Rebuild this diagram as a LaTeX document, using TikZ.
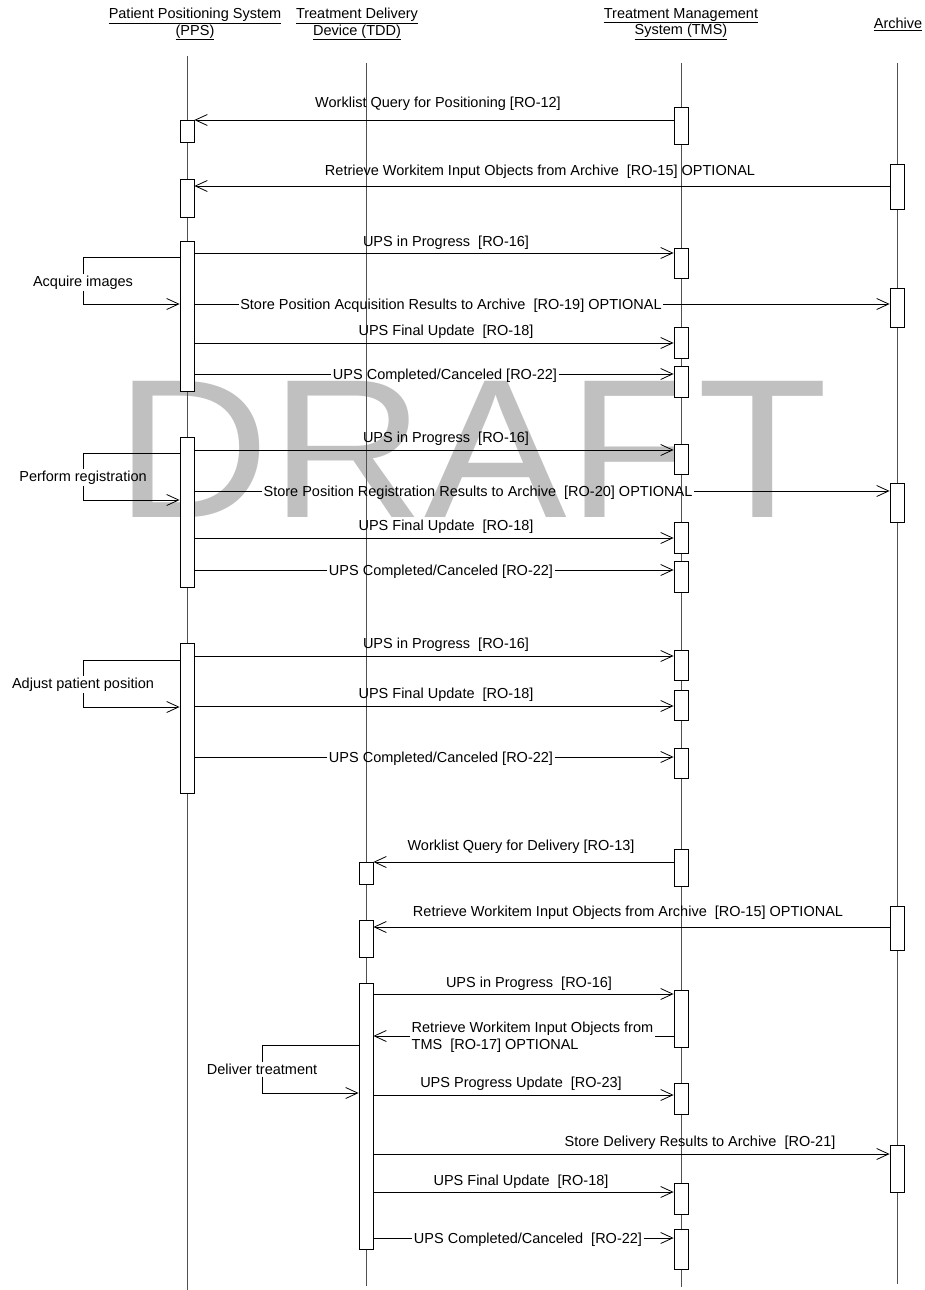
\documentclass[tikz,border=0pt]{standalone}
\usepackage{fontspec}
\setmainfont{Liberation Sans}
\usetikzlibrary{arrows.meta}
\definecolor{draftgray}{RGB}{192,192,192}
\definecolor{lifegray}{RGB}{80,80,80}
\tikzset{
	lifeline/.style={draw=lifegray, line width=0.9pt},
	act/.style={draw, fill=white, line width=0.8pt, minimum width=14pt, inner sep=0pt, anchor=north},
	msg/.style={draw, line width=0.8pt, -{Straight Barb[length=12pt,width=11pt,line width=0.8pt]}},
	seg/.style={draw, line width=0.8pt},
	lbl/.style={font=\fontsize{14.5}{17}\selectfont, inner sep=1.5pt, yshift=-1.5pt},
	head/.style={font=\fontsize{14.5}{15}\selectfont, inner sep=0pt, align=center},
}

\begin{document}
\begin{tikzpicture}[x=1pt,y=-1pt]
	\useasboundingbox (0,0) rectangle (925,1290);
	% watermark
	\node[text=draftgray, font=\fontsize{198}{200}\selectfont, inner sep=0pt, xscale=1.08] (draft) at (472,449) {DRAFT};
	% heads
	\node[head] (pps) at (195,24) {\underline{Patient Positioning System}\\\underline{(PPS)}};
	\node[head] (tdd) at (357,24) {\underline{Treatment Delivery}\\\underline{Device (TDD)}};
	\node[head] (tms) at (681,24) {\underline{Treatment Management}\\\underline{System (TMS)}};
	\node[head] (arc) at (898,24) {\underline{Archive}};
	% lifelines
	\coordinate (ppsTop) at (187,56);   \coordinate (ppsBot) at (187,1290);
	\coordinate (tddTop) at (366,63);   \coordinate (tddBot) at (366,1286);
	\coordinate (tmsTop) at (681,63);   \coordinate (tmsBot) at (681,1287);
	\coordinate (arcTop) at (897,63);   \coordinate (arcBot) at (897,1284);
	\foreach \l in {pps,tdd,tms,arc} {
		\draw[lifeline] (\l Top) -- (\l Bot);
	}
	% activations
	\foreach \n/\x/\ya/\yb in {pq/187/120/142, pr/187/179/217, pa/187/241/391, pb/187/437/587, pc/187/643/793,
		dq/366/862/884, dr/366/920/957, dd/366/983/1249,
		t1/681/107/144, t2/681/248/278, t3/681/327/358, t4/681/366/397, t5/681/444/474,
		t6/681/522/553, t7/681/561/592, t8/681/650/680, t9/681/690/720, t10/681/748/778,
		t11/681/849/886, t12/681/990/1047, t13/681/1083/1114, t14/681/1183/1214, t15/681/1229/1269,
		a1/897/164/209, a2/897/288/327, a3/897/483/522, a4/897/906/950, a5/897/1145/1192} {
		\node[act, minimum height={(\yb-\ya)*1pt}] (\n) at (\x,\ya) {};
	}
	% positioning
	\draw[msg] (t1.west |- 0,120) -- (pq.east |- 0,120);
	\node[lbl] (m1) at (438,102) {Worklist Query for Positioning [RO-12]};
	\draw[msg] (a1.west |- 0,186) -- (pr.east |- 0,186);
	\node[lbl] (m2) at (540,170) {Retrieve Workitem Input Objects from Archive ~[RO-15] OPTIONAL};
	% acquire images
	\draw[msg] (pa.east |- 0,253) -- (t2.west |- 0,253);
	\node[lbl] (m3) at (446,241) {UPS in Progress ~[RO-16]};
	\node[lbl] (s1) at (83,281) {Acquire images};
	\draw[seg] (pa.west |- 0,257) -| (s1.north);
	\draw[msg] (s1.south) |- (pa.west |- 0,304);
	\node[lbl] (m4) at (451,304) {Store Position Acquisition Results to Archive ~[RO-19] OPTIONAL};
	\draw[seg] (pa.east |- 0,304) -- (m4.west |- 0,304);
	\draw[msg] (m4.east |- 0,304) -- (a2.west |- 0,304);
	\draw[msg] (pa.east |- 0,343) -- (t3.west |- 0,343);
	\node[lbl] (m5) at (446,330) {UPS Final Update ~[RO-18]};
	\node[lbl] (m6) at (445,374) {UPS Completed/Canceled [RO-22]};
	\draw[seg] (pa.east |- 0,374) -- (m6.west |- 0,374);
	\draw[msg] (m6.east |- 0,374) -- (t4.west |- 0,374);
	% perform registration
	\draw[msg] (pb.east |- 0,450) -- (t5.west |- 0,450);
	\node[lbl] (m7) at (446,437) {UPS in Progress ~[RO-16]};
	\node[lbl] (s2) at (83,476) {Perform registration};
	\draw[seg] (pb.west |- 0,453) -| (s2.north);
	\draw[msg] (s2.south) |- (pb.west |- 0,500);
	\node[lbl] (m8) at (478,491) {Store Position Registration Results to Archive ~[RO-20] OPTIONAL};
	\draw[seg] (pb.east |- 0,491) -- (m8.west |- 0,491);
	\draw[msg] (m8.east |- 0,491) -- (a3.west |- 0,491);
	\draw[msg] (pb.east |- 0,538) -- (t6.west |- 0,538);
	\node[lbl] (m9) at (446,525) {UPS Final Update ~[RO-18]};
	\node[lbl] (m10) at (441,570) {UPS Completed/Canceled [RO-22]};
	\draw[seg] (pb.east |- 0,570) -- (m10.west |- 0,570);
	\draw[msg] (m10.east |- 0,570) -- (t7.west |- 0,570);
	% adjust patient position
	\draw[msg] (pc.east |- 0,656) -- (t8.west |- 0,656);
	\node[lbl] (m11) at (446,643) {UPS in Progress ~[RO-16]};
	\node[lbl] (s3) at (83,683) {Adjust patient position};
	\draw[seg] (pc.west |- 0,660) -| (s3.north);
	\draw[msg] (s3.south) |- (pc.west |- 0,707);
	\draw[msg] (pc.east |- 0,706) -- (t9.west |- 0,706);
	\node[lbl] (m12) at (446,693) {UPS Final Update ~[RO-18]};
	\node[lbl] (m13) at (441,757) {UPS Completed/Canceled [RO-22]};
	\draw[seg] (pc.east |- 0,757) -- (m13.west |- 0,757);
	\draw[msg] (m13.east |- 0,757) -- (t10.west |- 0,757);
	% delivery
	\draw[msg] (t11.west |- 0,862) -- (dq.east |- 0,862);
	\node[lbl] (m14) at (521,845) {Worklist Query for Delivery [RO-13]};
	\draw[msg] (a4.west |- 0,927) -- (dr.east |- 0,927);
	\node[lbl] (m15) at (628,911) {Retrieve Workitem Input Objects from Archive ~[RO-15] OPTIONAL};
	\draw[msg] (dd.east |- 0,994) -- (t12.west |- 0,994);
	\node[lbl] (m16) at (529,982) {UPS in Progress ~[RO-16]};
	\node[lbl, align=left, anchor=west] (m17) at (410,1036) {Retrieve Workitem Input Objects from\\TMS ~[RO-17] OPTIONAL};
	\draw[seg] (t12.west |- 0,1036) -- (m17.east |- 0,1036);
	\draw[msg] (m17.west |- 0,1036) -- (dd.east |- 0,1036);
	\node[lbl] (s4) at (262,1068) {Deliver treatment};
	\draw[seg] (dd.west |- 0,1045) -| (s4.north);
	\draw[msg] (s4.south) |- (dd.west |- 0,1093);
	\draw[msg] (dd.east |- 0,1095) -- (t13.west |- 0,1095);
	\node[lbl] (m18) at (521,1082) {UPS Progress Update ~[RO-23]};
	\draw[msg] (dd.east |- 0,1154) -- (a5.west |- 0,1154);
	\node[lbl] (m19) at (700,1141) {Store Delivery Results to Archive ~[RO-21]};
	\draw[msg] (dd.east |- 0,1192) -- (t14.west |- 0,1192);
	\node[lbl] (m20) at (521,1180) {UPS Final Update ~[RO-18]};
	\node[lbl] (m21) at (528,1238) {UPS Completed/Canceled ~[RO-22]};
	\draw[seg] (dd.east |- 0,1238) -- (m21.west |- 0,1238);
	\draw[msg] (m21.east |- 0,1238) -- (t15.west |- 0,1238);
\end{tikzpicture}
\end{document}
